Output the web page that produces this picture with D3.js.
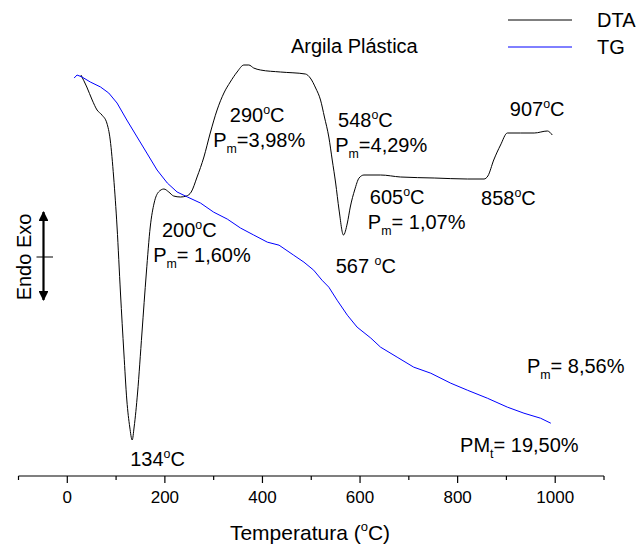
<!DOCTYPE html>
<html>
<head>
<meta charset="utf-8">
<script src="https://cdnjs.cloudflare.com/ajax/libs/d3/7.8.5/d3.min.js"></script>
<style>
  body { margin: 0; background: #fff; }
  text { font-family: "Liberation Sans", Arial, sans-serif; fill: #000; }
</style>
</head>
<body>
<div id="chart"></div>
<script>
// temperature (°C) and DTA signal (arbitrary units)
var dtaTemp = [28, 40, 51, 61, 71, 81, 88, 95, 102, 109, 116, 122, 128, 133, 137, 144, 153, 162, 170, 178,
  187, 198, 208, 218, 232, 244, 254, 266, 280, 293, 307, 321, 334, 348, 362, 372, 382, 396, 437, 488,
  498, 509, 519, 527, 536, 543, 550, 557, 566, 574, 580, 589, 598, 608, 642, 683, 752, 820, 854, 862,
  874, 888, 902, 929, 957, 984, 994];
var dtaValue = [7.00, 6.52, 6.00, 5.60, 5.40, 5.08, 4.40, 2.92, 0.92, -1.72, -4.12, -6.00, -7.08, -7.60, -7.08, -5.72, -3.32, -0.92, 0.92, 1.88,
  2.32, 2.44, 2.32, 2.16, 2.12, 2.16, 2.32, 2.92, 3.72, 4.68, 5.60, 6.28, 6.72, 7.12, 7.40, 7.40, 7.28, 7.20, 7.12, 7.04,
  6.88, 6.48, 6.00, 5.32, 4.52, 3.60, 2.68, 1.60, 0.60, 1.08, 1.72, 2.40, 2.88, 3.00, 3.00, 2.92, 2.88, 2.84, 2.84, 2.96,
  3.60, 4.20, 4.68, 4.68, 4.68, 4.76, 4.60];

// temperature (°C) and TG residual mass (%)
var tgTemp = [14, 20, 30, 47, 68, 85, 102, 122, 143, 163, 184, 205, 225, 246, 273, 300, 328, 355, 382, 410,
  434, 464, 485, 505, 522, 536, 553, 574, 594, 622, 642, 676, 710, 745, 786, 820, 861, 902, 936, 970, 991];
var tgMass = [99.83, 100.00, 99.89, 99.61, 99.33, 98.99, 98.43, 97.48, 96.53, 95.63, 94.68, 93.95, 93.45, 93.17, 92.83, 92.32, 91.93, 91.43, 91.04, 90.64,
  90.47, 89.91, 89.52, 89.07, 88.51, 88.12, 87.39, 86.55, 85.88, 85.27, 84.76, 84.20, 83.64, 83.30, 82.74, 82.35, 81.90, 81.40, 81.06, 80.78, 80.50];

var majorTicks = [0, 200, 400, 600, 800, 1000];
var minorTicks = [-100, 100, 300, 500, 700, 900, 1100];

// annotations: text (^ = superscript char, _ = subscript char), anchor temp, anchor DTA value
var noteText = ["290^oC", "P_m=3,98%", "548^oC", "P_m=4,29%", "605^oC", "P_m= 1,07%", "858^oC", "907^oC",
  "200^oC", "P_m= 1,60%", "134^oC", "567 ^oC", "P_m= 8,56%", "PM_t= 19,50%"];
var noteTemp = [333, 299, 555, 549, 620, 616, 848, 907, 194, 176, 129, 550, 942, 805];
var noteValue = [5.12, 4.12, 4.92, 3.92, 1.84, 0.84, 1.80, 5.36, 0.52, -0.48, -8.64, -0.92, -4.92, -8.08];

var seriesNames = ["DTA", "TG"];
var seriesColors = ["#000000", "#0000ff"];

var width = 639, height = 547;
var svg = d3.select("#chart").append("svg")
  .attr("width", width).attr("height", height);

var x = d3.scaleLinear().domain([-100, 1100]).range([18.5, 604]);
var yDta = d3.scaleLinear().domain([-9, 10]).range([475, 0]);
var yTg = d3.scaleLinear().domain([77.6, 104.2]).range([475, 0]);

// writes a string with ^x superscript / _x subscript into a text element
function rich(sel, str, size) {
  var parts = [], i = 0, buf = "";
  while (i < str.length) {
    var c = str[i];
    if ((c === "^" || c === "_") && i + 1 < str.length) {
      if (buf) parts.push({ t: buf, k: "n" });
      buf = "";
      parts.push({ t: str[i + 1], k: c === "^" ? "sup" : "sub" });
      i += 2;
    } else { buf += c; i++; }
  }
  if (buf) parts.push({ t: buf, k: "n" });
  var shift = 0;
  parts.forEach(function (p) {
    var ts = sel.append("tspan").text(p.t);
    var target = p.k === "sup" ? -size * 0.42 : p.k === "sub" ? size * 0.3 : 0;
    ts.attr("dy", target - shift);
    shift = target;
    if (p.k !== "n") ts.style("font-size", (size * 0.62) + "px");
  });
}

// x axis
var axisY = 476;
svg.append("line")
  .attr("x1", x(-100)).attr("x2", x(1100))
  .attr("y1", axisY).attr("y2", axisY)
  .attr("stroke", "#000").attr("stroke-width", 1.2);
svg.selectAll(".major").data(majorTicks).enter().append("line")
  .attr("x1", function (d) { return x(d); }).attr("x2", function (d) { return x(d); })
  .attr("y1", axisY).attr("y2", axisY + 7)
  .attr("stroke", "#000").attr("stroke-width", 1.2);
svg.selectAll(".minor").data(minorTicks).enter().append("line")
  .attr("x1", function (d) { return x(d); }).attr("x2", function (d) { return x(d); })
  .attr("y1", axisY).attr("y2", axisY + 4)
  .attr("stroke", "#000").attr("stroke-width", 1.2);
svg.selectAll(".ticklabel").data(majorTicks).enter().append("text")
  .attr("x", function (d) { return x(d); }).attr("y", 503)
  .attr("text-anchor", "middle")
  .style("font-size", "17px")
  .text(function (d) { return d; });

var title = svg.append("text")
  .attr("x", 310).attr("y", 540)
  .attr("text-anchor", "middle")
  .style("font-size", "21px");
rich(title, "Temperatura (^oC)", 21);

// curves
var dtaPts = dtaTemp.map(function (t, i) { return [t, dtaValue[i]]; });
var tgPts = tgTemp.map(function (t, i) { return [t, tgMass[i]]; });

svg.append("path")
  .attr("d", d3.line().x(function (d) { return x(d[0]); }).y(function (d) { return yDta(d[1]); })
    .curve(d3.curveMonotoneX)(dtaPts))
  .attr("fill", "none").attr("stroke", seriesColors[0]).attr("stroke-width", 1);

svg.append("path")
  .attr("d", d3.line().x(function (d) { return x(d[0]); }).y(function (d) { return yTg(d[1]); })(tgPts))
  .attr("fill", "none").attr("stroke", seriesColors[1]).attr("stroke-width", 1);

// annotations
noteText.forEach(function (s, i) {
  var t = svg.append("text")
    .attr("x", x(noteTemp[i])).attr("y", yDta(noteValue[i]))
    .style("font-size", "20px");
  rich(t, s, 20);
});

// plot title
svg.append("text")
  .attr("x", 291).attr("y", 53)
  .style("font-size", "20px")
  .text("Argila Plástica");

// legend
seriesNames.forEach(function (n, i) {
  var ly = 20 + i * 27;
  svg.append("line")
    .attr("x1", 508).attr("x2", 572).attr("y1", ly).attr("y2", ly)
    .attr("stroke", seriesColors[i]).attr("stroke-width", 1);
  svg.append("text")
    .attr("x", 597).attr("y", ly + 7)
    .style("font-size", "20px")
    .text(n);
});

// Endo / Exo indicator
svg.append("text")
  .attr("transform", "translate(31,257) rotate(-90)")
  .attr("text-anchor", "middle")
  .style("font-size", "20px")
  .text("Endo Exo");

var defs = svg.append("defs");
defs.append("marker")
  .attr("id", "head")
  .attr("viewBox", "0 0 10 10")
  .attr("refX", 9).attr("refY", 5)
  .attr("markerWidth", 4.5).attr("markerHeight", 4.5)
  .attr("markerUnits", "strokeWidth")
  .attr("orient", "auto-start-reverse")
  .append("path").attr("d", "M0,0 L10,5 L0,10 z").attr("fill", "#000");

svg.append("line")
  .attr("x1", 43.5).attr("x2", 43.5).attr("y1", 212).attr("y2", 300)
  .attr("stroke", "#000").attr("stroke-width", 2.2)
  .attr("marker-start", "url(#head)").attr("marker-end", "url(#head)");
svg.append("line")
  .attr("x1", 36.5).attr("x2", 53).attr("y1", 257).attr("y2", 257)
  .attr("stroke", "#000").attr("stroke-width", 1);
</script>
</body>
</html>
